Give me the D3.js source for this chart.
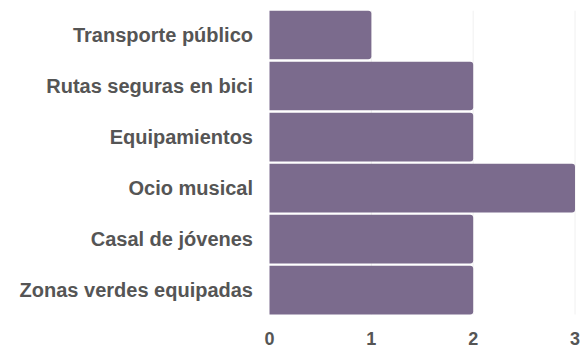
<!DOCTYPE html>
<html>
<head>
<meta charset="utf-8">
<script src="https://cdn.jsdelivr.net/npm/d3@7"></script>
<style>
  body { margin: 0; background: #fff; }
  text { font-family: "Liberation Sans", Arial, sans-serif; font-weight: bold; fill: #555; }
</style>
</head>
<body>
<svg id="chart" width="582" height="349"></svg>
<script>
// categories and values, top to bottom
var categories = ["Transporte público", "Rutas seguras en bici", "Equipamientos", "Ocio musical", "Casal de jóvenes", "Zonas verdes equipadas"];
var values = [1, 2, 2, 3, 2, 2];
var ticks = [0, 1, 2, 3];

var svg = d3.select("#chart");
var plotLeft = 269.5, plotRight = 575, plotTop = 10.7, plotBottom = 314.5;

var x = d3.scaleLinear().domain([0, 3]).range([plotLeft, plotRight]);
var y = d3.scaleBand().domain(categories).range([plotTop, plotBottom]).paddingInner(0.047).paddingOuter(0);

// faint grid lines
svg.append("g").selectAll("line")
    .data(ticks.slice(1))
    .enter().append("line")
    .attr("x1", function (d) { return x(d); })
    .attr("x2", function (d) { return x(d); })
    .attr("y1", plotTop)
    .attr("y2", plotBottom)
    .attr("stroke", "#f0f0f0");

// bars with rounded right end
var r = 3;
svg.append("g").selectAll("path")
    .data(values)
    .enter().append("path")
    .attr("fill", "#7b6b8d")
    .attr("d", function (d, i) {
        var x0 = x(0), x1 = x(d), y0 = y(categories[i]), h = y.bandwidth();
        return "M" + x0 + "," + y0 + "H" + (x1 - r) + "Q" + x1 + "," + y0 + " " + x1 + "," + (y0 + r) +
            "V" + (y0 + h - r) + "Q" + x1 + "," + (y0 + h) + " " + (x1 - r) + "," + (y0 + h) + "H" + x0 + "Z";
    });

// category labels
svg.append("g").selectAll("text")
    .data(categories)
    .enter().append("text")
    .attr("x", 253)
    .attr("y", function (d) { return y(d) + y.bandwidth() / 2; })
    .attr("dy", "0.35em")
    .attr("text-anchor", "end")
    .attr("font-size", 20)
    .text(function (d) { return d; });

// x axis tick labels
svg.append("g").selectAll("text")
    .data(ticks)
    .enter().append("text")
    .attr("x", function (d) { return x(d); })
    .attr("y", 345)
    .attr("text-anchor", "middle")
    .attr("font-size", 18)
    .text(function (d) { return d; });
</script>
</body>
</html>
